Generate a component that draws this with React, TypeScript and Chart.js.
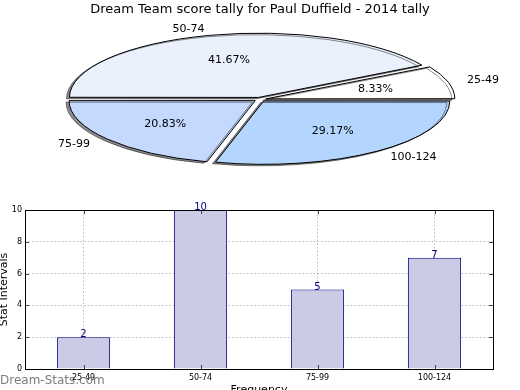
import React, { useEffect, useRef } from "react";
import { Chart, registerables } from "chart.js";

Chart.register(...registerables);

const categories = ["25-49", "50-74", "75-99", "100-124"];
const counts = [2, 10, 5, 7];
const pieColors = ["#ffffff", "#eaf1fd", "#c5d8fe", "#b3d5fe"];
const yTicks = [0, 2, 4, 6, 8, 10];
const titleText = "Dream Team score tally for Paul Duffield - 2014 tally";
const yTitle = "Stat Intervals";
const xTitle = "Frequency";
const watermark = "Dream-Stats.com";

const FONT = '"DejaVu Sans", sans-serif';
const SQUASH = 0.34;

export default function App() {
  const pieRef = useRef<HTMLCanvasElement | null>(null);
  const barRef = useRef<HTMLCanvasElement | null>(null);

  useEffect(() => {
    const total = counts.reduce((a, b) => a + b, 0);
    // matplotlib draws counter-clockwise from 3 o'clock; Chart.js goes clockwise, so reverse
    const order = categories.map((_, i) => i).reverse();

    const squashPlugin = {
      id: "squash",
      beforeDatasetsDraw(chart: any) {
        const ctx = chart.ctx;
        const arc = chart.getDatasetMeta(0).data[0];
        ctx.save();
        ctx.translate(arc.x, arc.y);
        ctx.scale(1, SQUASH);
        ctx.translate(-arc.x, -arc.y);
        ctx.shadowColor = "rgba(0,0,0,0.45)";
        ctx.shadowOffsetX = -3;
        ctx.shadowOffsetY = 1.5;
        ctx.shadowBlur = 0;
        const orig = CanvasRenderingContext2D.prototype.stroke;
        const dpr = chart.currentDevicePixelRatio || 1;
        ctx.stroke = function (...args: any[]) {
          this.save();
          this.setTransform(dpr, 0, 0, dpr, 0, 0);
          (orig as any).apply(this, args);
          this.restore();
        };
      },
      afterDatasetsDraw(chart: any) {
        const ctx = chart.ctx;
        delete ctx.stroke;
        ctx.restore();
        const meta = chart.getDatasetMeta(0);
        ctx.save();
        ctx.font = `11px ${FONT}`;
        ctx.fillStyle = "#000";
        ctx.textBaseline = "middle";
        meta.data.forEach((arc: any, i: number) => {
          const p = arc.getProps(["x", "y", "startAngle", "endAngle", "outerRadius"]);
          const mid = (p.startAngle + p.endAngle) / 2;
          const shift = (arc.options.offset || 0) / 4;
          const r = p.outerRadius;
          const c = Math.cos(mid);
          const s = Math.sin(mid);
          const idx = order[i];
          const lx = p.x + c * (shift + 1.12 * r);
          const ly = p.y + s * (shift + 1.12 * r) * SQUASH;
          ctx.textAlign = c > 0 ? "left" : "right";
          ctx.fillText(categories[idx], lx, ly);
          const px = p.x + c * (shift + 0.61 * r);
          const py = p.y + s * (shift + 0.61 * r) * SQUASH;
          ctx.textAlign = "center";
          ctx.fillText(((counts[idx] / total) * 100).toFixed(2) + "%", px, py);
        });
        ctx.restore();
      },
    };

    const pie = new Chart(pieRef.current as HTMLCanvasElement, {
      type: "pie",
      data: {
        labels: order.map((i) => categories[i]),
        datasets: [
          {
            data: order.map((i) => counts[i]),
            backgroundColor: order.map((i) => pieColors[i]),
            borderColor: "#000000",
            borderWidth: 1,
            offset: 24,
            radius: 186,
            clip: false,
          } as any,
        ],
      },
      options: {
        responsive: false,
        animation: false,
        devicePixelRatio: 1,
        rotation: 90,
        layout: { padding: { top: 0, bottom: 18.8, left: 0, right: 0 } },
        events: [],
        plugins: {
          legend: { display: false },
          tooltip: { enabled: false },
          title: {
            display: true,
            text: titleText,
            color: "#000",
            font: { family: FONT, size: 13, weight: "normal", lineHeight: 1.2 },
            padding: { top: 2, bottom: 0 },
          },
        },
      } as any,
      plugins: [squashPlugin],
    });

    const barDecor = {
      id: "barDecor",
      afterDraw(chart: any) {
        const { ctx, chartArea: a } = chart;
        ctx.save();
        // inward tick marks
        ctx.strokeStyle = "#444";
        ctx.lineWidth = 1;
        const ys = chart.scales.y;
        const xs = chart.scales.x;
        ys.ticks.forEach((_: any, i: number) => {
          const y = Math.round(ys.getPixelForTick(i)) + 0.5;
          ctx.beginPath();
          ctx.moveTo(a.left, y);
          ctx.lineTo(a.left + 4, y);
          ctx.moveTo(a.right, y);
          ctx.lineTo(a.right - 4, y);
          ctx.stroke();
        });
        xs.ticks.forEach((_: any, i: number) => {
          const x = Math.round(xs.getPixelForTick(i)) + 0.5;
          ctx.beginPath();
          ctx.moveTo(x, a.top);
          ctx.lineTo(x, a.top + 4);
          ctx.moveTo(x, a.bottom);
          ctx.lineTo(x, a.bottom - 4);
          ctx.stroke();
        });
        // axes box
        ctx.strokeStyle = "#000";
        ctx.strokeRect(Math.round(a.left) + 0.5, Math.round(a.top) + 0.5, Math.round(a.right - a.left), Math.round(a.bottom - a.top));
        // value labels
        ctx.font = `10px ${FONT}`;
        ctx.fillStyle = "#000080";
        ctx.textAlign = "center";
        ctx.textBaseline = "alphabetic";
        chart.getDatasetMeta(0).data.forEach((bar: any, i: number) => {
          ctx.fillText(String(counts[i]), bar.x, bar.y);
        });
        ctx.restore();
      },
    };

    const gridDash = [1.5, 2.2];
    const bar = new Chart(barRef.current as HTMLCanvasElement, {
      type: "bar",
      data: {
        labels: categories,
        datasets: [
          {
            data: counts,
            backgroundColor: "#cbcbe5",
            borderColor: "#000080",
            borderWidth: 1,
            barPercentage: 0.455,
            categoryPercentage: 1,
          },
        ],
      },
      options: {
        responsive: false,
        animation: false,
        devicePixelRatio: 1,
        events: [],
        layout: { padding: { top: 15, right: 27, left: 0, bottom: 0 } },
        plugins: { legend: { display: false }, tooltip: { enabled: false } },
        scales: {
          x: {
            z: 1,
            grid: { offset: false, drawTicks: false, color: "rgba(0,0,0,0.28)", lineWidth: 1 },
            border: { display: false, dash: gridDash },
            ticks: { color: "#000", font: { family: FONT, size: 8 }, padding: 4, maxRotation: 0 },
            title: {
              display: true,
              text: xTitle,
              color: "#000",
              font: { family: FONT, size: 11 },
              padding: { top: 0, bottom: 13.4 },
            },
            afterFit(scale: any) {
              scale.height = 41;
            },
          },
          y: {
            min: 0,
            max: 10,
            afterBuildTicks(scale: any) {
              scale.ticks = yTicks.map((v) => ({ value: v }));
            },
            grid: { drawTicks: false, color: "rgba(0,0,0,0.28)", lineWidth: 1 },
            border: { display: false, dash: gridDash },
            ticks: { color: "#000", font: { family: FONT, size: 8 }, padding: 3 },
            title: {
              display: true,
              text: yTitle,
              color: "#000",
              font: { family: FONT, size: 11, lineHeight: 1 },
              padding: { top: -1, bottom: 0 },
            },
            afterFit(scale: any) {
              scale.width = 25;
            },
          },
        },
      } as any,
      plugins: [barDecor],
    });

    return () => {
      pie.destroy();
      bar.destroy();
    };
  }, []);

  return (
    <div
      style={{
        position: "fixed",
        left: 0,
        top: 0,
        width: 520,
        height: 390,
        overflow: "hidden",
        background: "#ffffff",
      }}
    >
      <canvas
        ref={pieRef}
        width={520}
        height={200}
        style={{ position: "absolute", left: 0, top: 0, width: 520, height: 200, display: "block" }}
      />
      <canvas
        ref={barRef}
        width={520}
        height={215}
        style={{ position: "absolute", left: 0, top: 195, width: 520, height: 215, display: "block" }}
      />
      <div
        style={{
          position: "absolute",
          left: 0,
          top: 372,
          fontFamily: FONT,
          fontSize: 12,
          lineHeight: "16px",
          color: "rgba(110,110,110,0.9)",
          whiteSpace: "nowrap",
          pointerEvents: "none",
        }}
      >
        {watermark}
      </div>
    </div>
  );
}
